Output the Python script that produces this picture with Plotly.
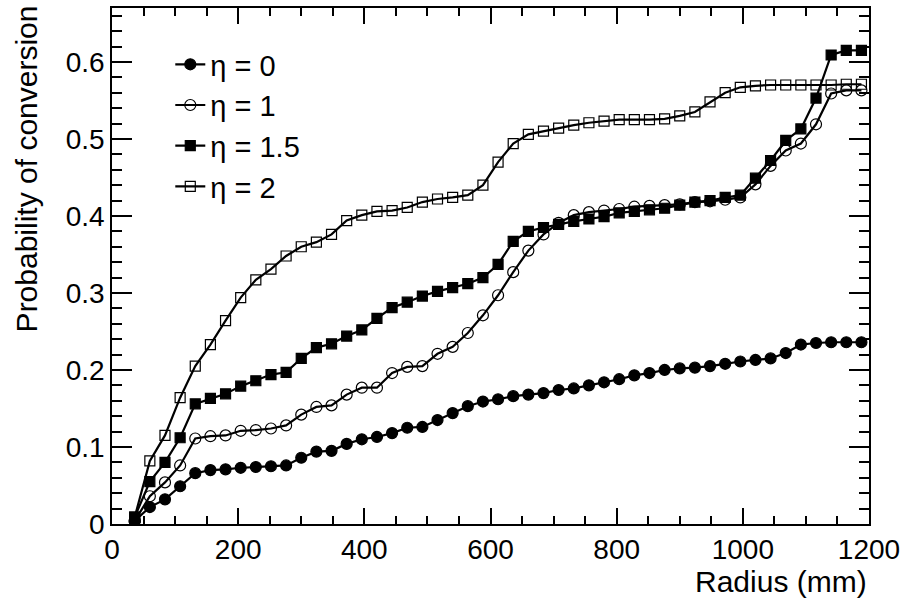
import plotly.graph_objects as go

radius = [36 + 24 * i for i in range(49)]

eta0 = [0.004, 0.022, 0.032, 0.049, 0.066, 0.070, 0.071, 0.073, 0.074, 0.075,
        0.076, 0.086, 0.094, 0.095, 0.104, 0.110, 0.113, 0.118, 0.125, 0.126,
        0.135, 0.144, 0.153, 0.159, 0.162, 0.166, 0.168, 0.170, 0.174, 0.176,
        0.180, 0.184, 0.188, 0.193, 0.196, 0.200, 0.202, 0.203, 0.205, 0.208,
        0.211, 0.213, 0.215, 0.222, 0.233, 0.235, 0.236, 0.236, 0.236]

eta1 = [0.004, 0.036, 0.054, 0.076, 0.111, 0.114, 0.115, 0.121, 0.122, 0.124,
        0.128, 0.142, 0.152, 0.154, 0.168, 0.177, 0.177, 0.196, 0.204, 0.205,
        0.221, 0.230, 0.248, 0.271, 0.297, 0.327, 0.355, 0.376, 0.391, 0.401,
        0.405, 0.407, 0.409, 0.412, 0.413, 0.414, 0.415, 0.418, 0.419, 0.421,
        0.424, 0.441, 0.465, 0.485, 0.494, 0.519, 0.559, 0.563, 0.563]

eta15 = [0.009, 0.055, 0.080, 0.112, 0.156, 0.163, 0.169, 0.179, 0.186, 0.194,
         0.197, 0.215, 0.229, 0.234, 0.244, 0.252, 0.267, 0.281, 0.288, 0.296,
         0.302, 0.307, 0.312, 0.320, 0.337, 0.367, 0.380, 0.385, 0.389, 0.393,
         0.396, 0.399, 0.404, 0.406, 0.408, 0.410, 0.414, 0.418, 0.420, 0.424,
         0.427, 0.449, 0.472, 0.498, 0.513, 0.553, 0.609, 0.615, 0.615]

eta2 = [0.009, 0.082, 0.115, 0.164, 0.205, 0.233, 0.264, 0.294, 0.317, 0.331,
        0.348, 0.360, 0.366, 0.376, 0.394, 0.401, 0.406, 0.407, 0.411, 0.418,
        0.422, 0.424, 0.427, 0.440, 0.470, 0.494, 0.506, 0.510, 0.514, 0.518,
        0.521, 0.523, 0.525, 0.525, 0.525, 0.526, 0.530, 0.535, 0.548, 0.560,
        0.567, 0.569, 0.570, 0.570, 0.570, 0.570, 0.570, 0.571, 0.571]

series = [
    ("η = 0", eta0, "circle", 11),
    ("η = 1", eta1, "circle-open", 11),
    ("η = 1.5", eta15, "square", 10),
    ("η = 2", eta2, "square-open", 10),
]

FONT = "Liberation Sans, Arial, Helvetica, sans-serif"

fig = go.Figure()
for name, vals, sym, size in series:
    fig.add_trace(go.Scatter(
        x=radius, y=vals, name=name, mode="lines+markers",
        line=dict(color="black", width=2.2),
        marker=dict(symbol=sym, size=size, color="black",
                    line=dict(color="black", width=1.2)),
    ))

axis_common = dict(
    showgrid=False, zeroline=False, showline=True, linecolor="black",
    linewidth=1.5, mirror="ticks", ticks="inside", tickcolor="black",
    tickwidth=1.5, tickfont=dict(family=FONT, size=28, color="black"),
)

fig.update_xaxes(range=[0, 1200], tick0=0, dtick=200, ticklen=16,
                 minor=dict(ticks="inside", dtick=50, ticklen=8,
                            tickcolor="black", tickwidth=1.5),
                 **axis_common)
fig.update_yaxes(range=[0, 0.67], tick0=0, dtick=0.1, ticklen=20,
                 minor=dict(ticks="inside", dtick=0.02, ticklen=10,
                            tickcolor="black", tickwidth=1.5),
                 **axis_common)

fig.add_annotation(text="Radius (mm)", xref="paper", yref="paper",
                   x=1.0, y=-0.112, xanchor="right", yanchor="middle",
                   showarrow=False, font=dict(family=FONT, size=30, color="black"))
fig.add_annotation(text="Probability of conversion", xref="paper", yref="paper",
                   x=-0.1136, y=1.008, xanchor="center", yanchor="top",
                   textangle=-90, showarrow=False,
                   font=dict(family=FONT, size=30, color="black"))

fig.update_layout(
    width=908, height=599,
    margin=dict(l=112, r=39, t=6, b=75),
    paper_bgcolor="white", plot_bgcolor="white",
    showlegend=True,
    legend=dict(x=0.077, y=0.94, xanchor="left", yanchor="top",
                bgcolor="rgba(0,0,0,0)", borderwidth=0,
                font=dict(family=FONT, size=29, color="black"),
                itemwidth=30, tracegroupgap=0),
)

fig.write_html("out.html", config={"displayModeBar": False},
               post_script="document.body.style.margin='0';document.body.style.padding='0';")
